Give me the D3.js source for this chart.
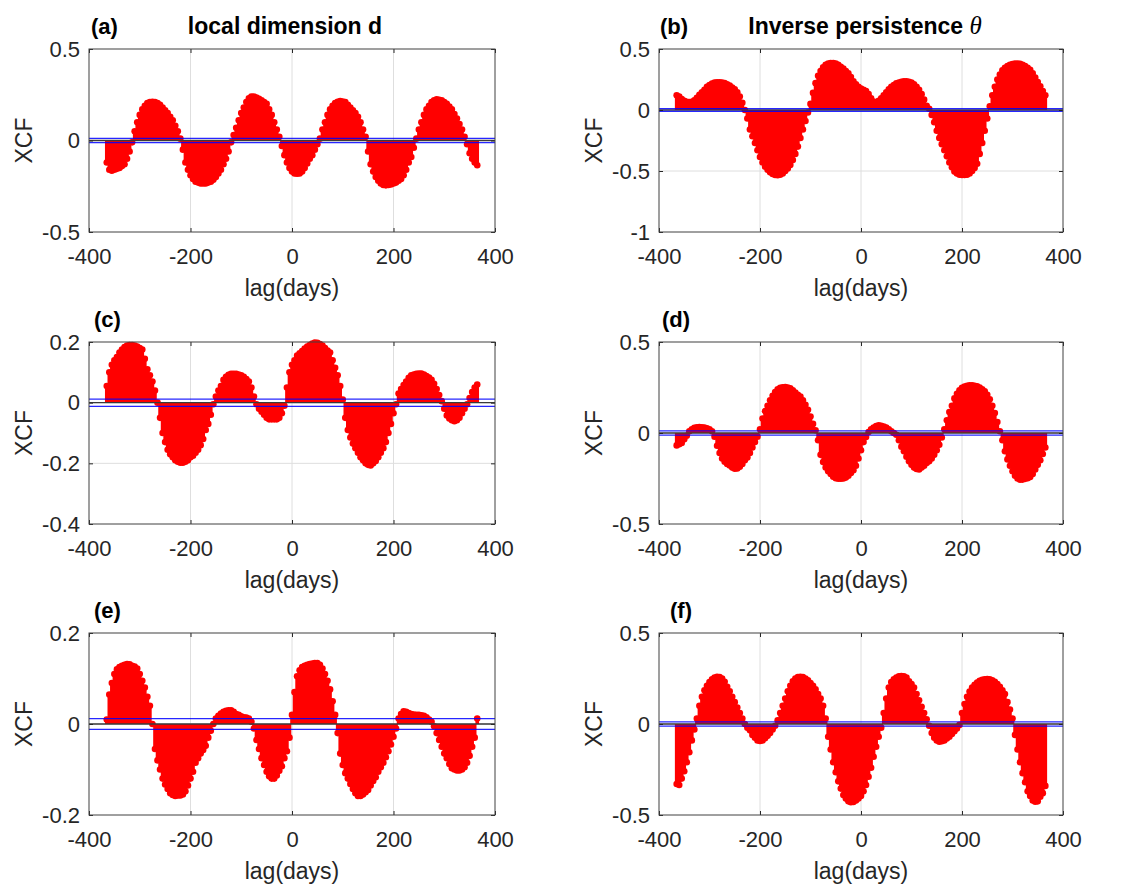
<!DOCTYPE html>
<html>
<head>
<meta charset="utf-8">
<script src="https://cdn.jsdelivr.net/npm/d3@7"></script>
<style>
  body { margin: 0; background: #fff; }
  svg { display: block; font-family: "Liberation Sans", Arial, sans-serif; }
</style>
</head>
<body>
<svg id="chart" width="1123" height="888"></svg>
<script>
// lag axis: one stem every 5 days
const lags = d3.range(-365, 366, 5);
const xTicks = [-400, -200, 0, 200, 400];
const confBound = 0.012;

// XCF values
const xcfA = [
  -0.12, -0.16, -0.165, -0.16, -0.155, -0.15, -0.14, -0.13, -0.10, -0.06,
  -0.01, 0.05, 0.10, 0.14, 0.17, 0.19, 0.205, 0.21, 0.212, 0.21,
  0.205, 0.195, 0.18, 0.165, 0.15, 0.13, 0.11, 0.08, 0.05, 0.01,
  -0.05, -0.12, -0.16, -0.19, -0.21, -0.225, -0.23, -0.235, -0.235, -0.235,
  -0.23, -0.225, -0.215, -0.2, -0.18, -0.16, -0.13, -0.10, -0.06, -0.01,
  0.03, 0.07, 0.11, 0.15, 0.18, 0.21, 0.23, 0.24, 0.24, 0.235,
  0.228, 0.22, 0.21, 0.2, 0.17, 0.14, 0.10, 0.06, 0.02, -0.03,
  -0.08, -0.12, -0.15, -0.17, -0.18, -0.182, -0.18, -0.17, -0.15, -0.125,
  -0.10, -0.08, -0.05, -0.02, 0.01, 0.06, 0.10, 0.14, 0.17, 0.19,
  0.205, 0.212, 0.215, 0.213, 0.21, 0.195, 0.18, 0.165, 0.15, 0.13,
  0.10, 0.06, 0.02, -0.06, -0.13, -0.17, -0.2, -0.22, -0.235, -0.243,
  -0.245, -0.243, -0.24, -0.235, -0.23, -0.22, -0.21, -0.19, -0.16, -0.12,
  -0.09, -0.04, 0.01, 0.06, 0.10, 0.14, 0.17, 0.19, 0.21, 0.22,
  0.225, 0.223, 0.22, 0.21, 0.2, 0.185, 0.17, 0.145, 0.12, 0.09,
  0.06, 0.02, -0.02, -0.07, -0.10, -0.12, -0.135
];

const xcfB = [
  0.12, 0.11, 0.09, 0.075, 0.068, 0.066, 0.068, 0.08, 0.10, 0.125,
  0.145, 0.165, 0.19, 0.205, 0.217, 0.225, 0.228, 0.228, 0.226, 0.22,
  0.21, 0.2, 0.185, 0.17, 0.145, 0.11, 0.06, 0.0, -0.07, -0.16,
  -0.215, -0.27, -0.33, -0.385, -0.43, -0.465, -0.49, -0.51, -0.525, -0.533,
  -0.535, -0.53, -0.52, -0.5, -0.48, -0.45, -0.41, -0.36, -0.3, -0.23,
  -0.16, -0.09, -0.02, 0.05, 0.14, 0.22, 0.28, 0.32, 0.35, 0.37,
  0.38, 0.385, 0.385, 0.38, 0.37, 0.355, 0.34, 0.32, 0.3, 0.27,
  0.235, 0.21, 0.19, 0.175, 0.165, 0.155, 0.13, 0.095, 0.07, 0.06,
  0.075, 0.095, 0.12, 0.145, 0.17, 0.19, 0.205, 0.218, 0.226, 0.232,
  0.235, 0.235, 0.232, 0.225, 0.21, 0.19, 0.165, 0.13, 0.085, 0.035,
  0.01, -0.04, -0.1, -0.17, -0.23, -0.28, -0.33, -0.38, -0.43, -0.47,
  -0.505, -0.52, -0.53, -0.532, -0.532, -0.53, -0.52, -0.5, -0.475, -0.44,
  -0.36, -0.27, -0.17, -0.07, 0.03, 0.12, 0.19, 0.25, 0.29, 0.325,
  0.345, 0.36, 0.37, 0.377, 0.38, 0.38, 0.378, 0.37, 0.36, 0.345,
  0.33, 0.3, 0.265, 0.23, 0.195, 0.155, 0.12
];

const xcfC = [
  0.055, 0.1, 0.125, 0.14, 0.15, 0.165, 0.175, 0.183, 0.188, 0.19,
  0.19, 0.188, 0.185, 0.18, 0.175, 0.145, 0.11, 0.09, 0.07, 0.04,
  0.0, -0.05, -0.1, -0.13, -0.155, -0.17, -0.18, -0.19, -0.195, -0.198,
  -0.198, -0.195, -0.19, -0.18, -0.175, -0.165, -0.155, -0.14, -0.12, -0.09,
  -0.07, -0.04, -0.005, 0.02, 0.04, 0.055, 0.075, 0.085, 0.092, 0.095,
  0.095, 0.095, 0.093, 0.09, 0.085, 0.078, 0.07, 0.05, 0.02, -0.005,
  -0.02, -0.03, -0.04, -0.05, -0.055, -0.055, -0.055, -0.055, -0.05, -0.035,
  -0.01, 0.05, 0.1, 0.125, 0.14, 0.155, 0.163, 0.17, 0.178, 0.185,
  0.19, 0.195, 0.198, 0.197, 0.193, 0.188, 0.18, 0.172, 0.165, 0.14,
  0.115, 0.09, 0.055, 0.01, -0.05, -0.09, -0.115, -0.135, -0.15, -0.165,
  -0.18, -0.19, -0.2, -0.205, -0.207, -0.2, -0.192, -0.18, -0.165, -0.15,
  -0.13, -0.1, -0.07, -0.035, -0.005, 0.03, 0.045, 0.058, 0.07, 0.082,
  0.09, 0.093, 0.095, 0.096, 0.096, 0.093, 0.088, 0.083, 0.075, 0.062,
  0.045, 0.025, 0.005, -0.02, -0.042, -0.052, -0.058, -0.061, -0.058, -0.05,
  -0.035, -0.02, -0.005, 0.015, 0.035, 0.05, 0.06
];

const xcfD = [
  -0.068, -0.062, -0.055, -0.035, -0.015, 0.01, 0.02, 0.028, 0.032, 0.033,
  0.032, 0.03, 0.026, 0.02, 0.01, -0.02, -0.07, -0.11, -0.14, -0.158,
  -0.17, -0.178, -0.19, -0.196, -0.195, -0.185, -0.17, -0.15, -0.135, -0.11,
  -0.08, -0.05, -0.02, 0.02, 0.08, 0.12, 0.15, 0.18, 0.205, 0.225,
  0.24, 0.248, 0.251, 0.252, 0.25, 0.245, 0.235, 0.222, 0.21, 0.2,
  0.18, 0.155, 0.128, 0.09, 0.05, 0.015, -0.04, -0.12, -0.16, -0.19,
  -0.21, -0.225, -0.24, -0.248, -0.251, -0.251, -0.25, -0.245, -0.235, -0.22,
  -0.205, -0.18, -0.14, -0.095, -0.05, -0.022, 0.005, 0.02, 0.03, 0.038,
  0.042, 0.04, 0.035, 0.03, 0.02, 0.009, 0.0, -0.01, -0.04, -0.075,
  -0.1, -0.13, -0.155, -0.175, -0.19, -0.198, -0.2, -0.19, -0.18, -0.165,
  -0.155, -0.14, -0.12, -0.095, -0.065, -0.025, 0.02, 0.07, 0.115, 0.15,
  0.19, 0.215, 0.235, 0.248, 0.255, 0.26, 0.262, 0.262, 0.26, 0.257,
  0.25, 0.24, 0.229, 0.21, 0.185, 0.15, 0.11, 0.06, 0.01, -0.04,
  -0.1, -0.145, -0.18, -0.21, -0.235, -0.25, -0.257, -0.256, -0.252, -0.248,
  -0.242, -0.225, -0.2, -0.175, -0.15, -0.115, -0.08
];

const xcfE = [
  0.01, 0.065, 0.09, 0.11, 0.12, 0.125, 0.128, 0.13, 0.132, 0.131,
  0.128, 0.126, 0.122, 0.11, 0.095, 0.08, 0.06, 0.04, 0.0, -0.055,
  -0.08, -0.1, -0.12, -0.133, -0.143, -0.152, -0.156, -0.158, -0.157, -0.157,
  -0.155, -0.148, -0.135, -0.12, -0.105, -0.085, -0.075, -0.065, -0.057, -0.048,
  -0.03, -0.015, 0.0, 0.012, 0.018, 0.023, 0.027, 0.029, 0.03, 0.03,
  0.027, 0.022, 0.02, 0.017, 0.015, 0.014, 0.012, 0.005, -0.01, -0.035,
  -0.055, -0.075, -0.09, -0.105, -0.115, -0.12, -0.12, -0.113, -0.103, -0.093,
  -0.075, -0.06, -0.03, 0.02, 0.07, 0.105, 0.118, 0.125, 0.128, 0.13,
  0.132, 0.133, 0.134, 0.134, 0.13, 0.122, 0.11, 0.095, 0.076, 0.05,
  0.02, -0.02, -0.065, -0.09, -0.108, -0.12, -0.132, -0.143, -0.152, -0.158,
  -0.158, -0.155, -0.15, -0.145, -0.135, -0.125, -0.117, -0.105, -0.095, -0.085,
  -0.073, -0.06, -0.045, -0.028, -0.01, 0.012, 0.022, 0.028, 0.027, 0.024,
  0.022, 0.021, 0.02, 0.02, 0.019, 0.018, 0.015, 0.01, 0.005, -0.005,
  -0.02, -0.035, -0.05, -0.065, -0.075, -0.088, -0.097, -0.1, -0.102, -0.102,
  -0.1, -0.095, -0.085, -0.07, -0.05, -0.03, 0.012
];

const xcfF = [
  -0.33, -0.335, -0.3, -0.26, -0.21, -0.155, -0.09, -0.03, 0.03, 0.1,
  0.15, 0.185, 0.21, 0.23, 0.245, 0.255, 0.26, 0.258, 0.25, 0.232,
  0.205, 0.18, 0.15, 0.12, 0.09, 0.06, 0.03, 0.0, -0.02, -0.035,
  -0.06, -0.075, -0.09, -0.093, -0.09, -0.078, -0.065, -0.05, -0.03, -0.01,
  0.02, 0.06, 0.1, 0.14, 0.18, 0.21, 0.235, 0.25, 0.258, 0.26,
  0.258, 0.25, 0.24, 0.225, 0.21, 0.19, 0.165, 0.14, 0.1, 0.03,
  -0.07, -0.14, -0.21, -0.265, -0.315, -0.355, -0.39, -0.41, -0.425, -0.43,
  -0.428, -0.42, -0.41, -0.395, -0.37, -0.335, -0.29, -0.24, -0.18, -0.125,
  -0.07, -0.02, 0.06, 0.14, 0.2, 0.23, 0.245, 0.255, 0.262, 0.264,
  0.262, 0.255, 0.235, 0.22, 0.2, 0.165, 0.13, 0.095, 0.06, 0.026,
  -0.01, -0.05, -0.075, -0.09, -0.097, -0.095, -0.09, -0.08, -0.07, -0.055,
  -0.04, -0.025, -0.005, 0.06, 0.11, 0.15, 0.178, 0.2, 0.215, 0.228,
  0.237, 0.243, 0.246, 0.247, 0.245, 0.24, 0.232, 0.22, 0.205, 0.185,
  0.165, 0.12, 0.08, 0.03, -0.06, -0.14, -0.21, -0.27, -0.32, -0.37,
  -0.395, -0.42, -0.427, -0.425, -0.4, -0.38, -0.34
];

// y tick labels per panel
const yTicksA = [-0.5, 0, 0.5];
const yTicksB = [-1, -0.5, 0, 0.5];
const yTicksC = [-0.4, -0.2, 0, 0.2];
const yTicksD = [-0.5, 0, 0.5];
const yTicksE = [-0.2, 0, 0.2];
const yTicksF = [-0.5, 0, 0.5];

// adjust: panel grid (pixel positions of plot boxes)
const cols = [{ left: 89, right: 495 }, { left: 659, right: 1063 }];
const rows = [{ top: 49, bottom: 232 }, { top: 342, bottom: 524 }, { top: 633, bottom: 815 }];

const panels = [
  { tag: "(a)", tagX: 91, title: "local dimension d", titleX: 285, col: 0, row: 0, values: xcfA, yTicks: yTicksA },
  { tag: "(b)", tagX: 660, title: "Inverse persistence ", theta: true, titleX: 865, col: 1, row: 0, values: xcfB, yTicks: yTicksB },
  { tag: "(c)", tagX: 94, col: 0, row: 1, values: xcfC, yTicks: yTicksC },
  { tag: "(d)", tagX: 662, col: 1, row: 1, values: xcfD, yTicks: yTicksD },
  { tag: "(e)", tagX: 94, col: 0, row: 2, values: xcfE, yTicks: yTicksE },
  { tag: "(f)", tagX: 670, col: 1, row: 2, values: xcfF, yTicks: yTicksF },
];

const fontFamily = "'Liberation Sans', Arial, sans-serif";
const tickFont = 22;

const svg = d3.select("#chart");
svg.append("rect").attr("width", 1123).attr("height", 888).attr("fill", "#fff");

// strip d3's default axis font so our own sizes win
function styleAxis(a) {
  a.attr("font-family", fontFamily).attr("font-size", tickFont);
  a.select(".domain").remove();
  a.selectAll(".tick line").attr("stroke", "#262626");
  a.selectAll(".tick text").attr("fill", "#262626");
}

function drawPanel(p) {
  const c = cols[p.col];
  const r = rows[p.row];
  if (p.values.length !== lags.length) console.warn(p.tag, p.values.length, lags.length);

  const x = d3.scaleLinear().domain(d3.extent(xTicks)).range([c.left, c.right]);
  const y = d3.scaleLinear().domain(d3.extent(p.yTicks)).range([r.bottom, r.top]);

  const g = svg.append("g");

  // grid
  g.append("g")
    .selectAll("line")
    .data(xTicks.slice(1, -1))
    .join("line")
    .attr("x1", d => x(d)).attr("x2", d => x(d))
    .attr("y1", r.top).attr("y2", r.bottom)
    .attr("stroke", "#dedede").attr("stroke-width", 1);
  g.append("g")
    .selectAll("line")
    .data(p.yTicks.slice(1, -1))
    .join("line")
    .attr("x1", c.left).attr("x2", c.right)
    .attr("y1", d => y(d)).attr("y2", d => y(d))
    .attr("stroke", "#dedede").attr("stroke-width", 1);

  // stems
  const pts = lags.map((lag, i) => ({ lag, v: p.values[i] }));
  g.append("g")
    .selectAll("line")
    .data(pts)
    .join("line")
    .attr("x1", d => x(d.lag)).attr("x2", d => x(d.lag))
    .attr("y1", y(0)).attr("y2", d => y(d.v))
    .attr("stroke", "#ff0000").attr("stroke-width", 3.6);
  g.append("g")
    .selectAll("circle")
    .data(pts)
    .join("circle")
    .attr("cx", d => x(d.lag))
    .attr("cy", d => y(d.v))
    .attr("r", 3.3)
    .attr("fill", "#ff0000");

  // stem baseline
  g.append("line")
    .attr("x1", c.left).attr("x2", c.right)
    .attr("y1", y(0)).attr("y2", y(0))
    .attr("stroke", "#3a3a3a").attr("stroke-width", 1.3);

  // confidence bounds
  g.append("g")
    .selectAll("line")
    .data([confBound, -confBound])
    .join("line")
    .attr("x1", c.left).attr("x2", c.right)
    .attr("y1", d => y(d)).attr("y2", d => y(d))
    .attr("stroke", "#0000ff").attr("stroke-width", 1.3).attr("stroke-opacity", 0.85);

  // axes (ticks point inward, MATLAB style)
  g.append("g")
    .attr("transform", `translate(0,${r.bottom})`)
    .call(d3.axisBottom(x).tickValues(xTicks).tickSize(-4).tickSizeOuter(0).tickPadding(16).tickFormat(d => String(d)))
    .call(styleAxis);
  g.append("g")
    .attr("transform", `translate(${c.left},0)`)
    .call(d3.axisLeft(y).tickValues(p.yTicks).tickSize(-4).tickSizeOuter(0).tickPadding(9).tickFormat(d => String(d)))
    .call(styleAxis);
  g.append("g")
    .attr("transform", `translate(0,${r.top})`)
    .call(d3.axisTop(x).tickValues(xTicks).tickSize(-4).tickFormat(""))
    .call(styleAxis);
  g.append("g")
    .attr("transform", `translate(${c.right},0)`)
    .call(d3.axisRight(y).tickValues(p.yTicks).tickSize(-4).tickFormat(""))
    .call(styleAxis);

  // box
  g.append("rect")
    .attr("x", c.left).attr("y", r.top)
    .attr("width", c.right - c.left).attr("height", r.bottom - r.top)
    .attr("fill", "none").attr("stroke", "#404040").attr("stroke-width", 1);

  // axis labels
  g.append("text")
    .attr("x", (c.left + c.right) / 2).attr("y", r.bottom + 64)
    .attr("text-anchor", "middle")
    .attr("font-family", fontFamily)
    .attr("font-size", 23).attr("fill", "#262626")
    .text("lag(days)");
  g.append("text")
    .attr("transform", `translate(${c.left - 57},${(r.top + r.bottom) / 2}) rotate(-90)`)
    .attr("text-anchor", "middle")
    .attr("font-family", fontFamily)
    .attr("font-size", 23).attr("fill", "#262626")
    .text("XCF");

  // panel tag and title
  g.append("text")
    .attr("x", p.tagX).attr("y", r.top - 15)
    .attr("font-family", fontFamily)
    .attr("font-size", 22).attr("font-weight", "bold").attr("fill", "#000")
    .text(p.tag);
  if (p.title) {
    const t = g.append("text")
      .attr("x", p.titleX).attr("y", r.top - 15)
      .attr("text-anchor", "middle")
      .attr("font-family", fontFamily)
      .attr("font-size", 23).attr("font-weight", "bold").attr("fill", "#000")
      .text(p.title);
    if (p.theta) {
      t.append("tspan")
        .attr("font-family", "'Liberation Serif', 'DejaVu Serif', serif")
        .attr("font-style", "italic")
        .attr("font-weight", "normal")
        .attr("font-size", 25)
        .text("\u03B8");
    }
  }
}

panels.forEach(drawPanel);
</script>
</body>
</html>
